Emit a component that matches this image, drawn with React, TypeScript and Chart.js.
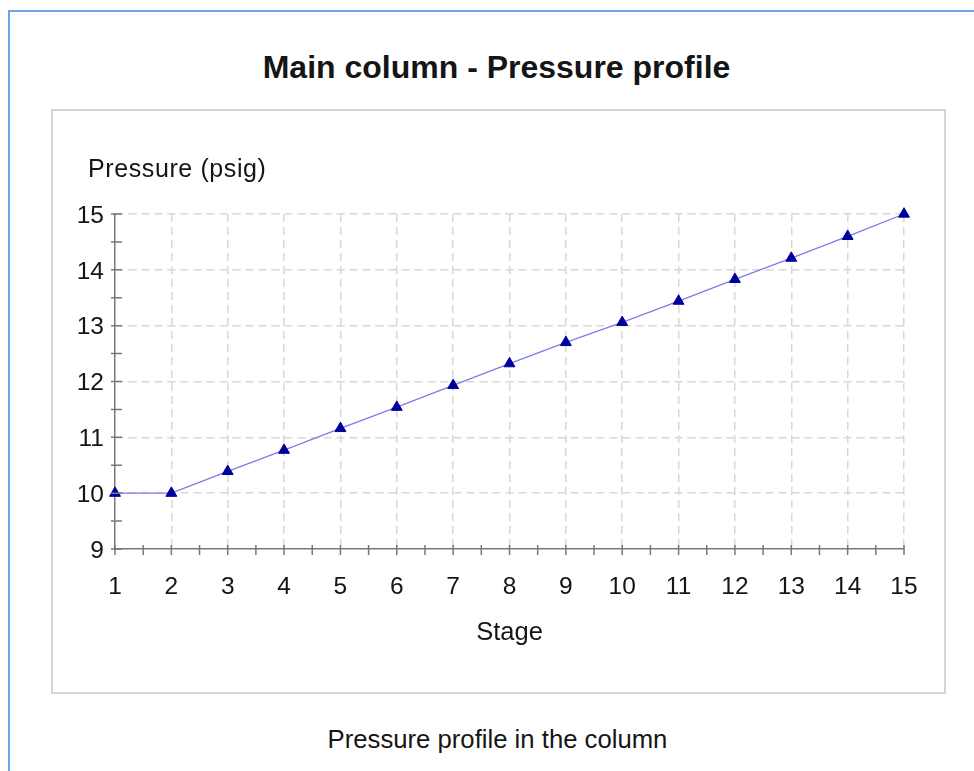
import React, { useEffect, useRef } from "react";
import { Chart, registerables } from "chart.js";

Chart.register(...registerables);

const stages = [1, 2, 3, 4, 5, 6, 7, 8, 9, 10, 11, 12, 13, 14, 15];
const pressure = [10, 10, 10.39, 10.77, 11.16, 11.54, 11.93, 12.32, 12.7, 13.06, 13.44, 13.83, 14.21, 14.6, 15];
const xRange = [1, 15];
const yRange = [9, 15];
const titleText = "Main column - Pressure profile";
const yTitleText = "Pressure (psig)";
const xTitleText = "Stage";
const captionText = "Pressure profile in the column";

const FONT = '"Liberation Sans", Arial, sans-serif';
const AXIS_COLOR = "#787878";
const GRID_COLOR = "#d8d8d8";
const TEXT_COLOR = "#151515";

const isMajor = (v: number) => Math.abs(v - Math.round(v)) < 1e-6;

const tickMarksPlugin = {
  id: "tickMarks",
  afterDatasetsDraw(chart: any) {
    const { ctx, scales } = chart;
    const xs = scales.x;
    const ys = scales.y;
    ctx.save();
    ctx.strokeStyle = AXIS_COLOR;
    ctx.lineWidth = 1.5;
    ctx.beginPath();
    const axisY = ys.getPixelForValue(yRange[0]);
    const axisX = xs.getPixelForValue(xRange[0]);
    xs.ticks.forEach((t: any) => {
      const px = xs.getPixelForValue(t.value);
      ctx.moveTo(px, axisY - 4);
      ctx.lineTo(px, axisY + 6);
    });
    ys.ticks.forEach((t: any) => {
      const py = ys.getPixelForValue(t.value);
      ctx.moveTo(axisX - 4, py);
      ctx.lineTo(axisX + 7, py);
    });
    ctx.stroke();
    // y axis title, horizontal above the axis
    ctx.fillStyle = TEXT_COLOR;
    ctx.font = `25px ${FONT}`;
    ctx.textAlign = "left";
    ctx.textBaseline = "alphabetic";
    try {
      (ctx as any).letterSpacing = "0.6px";
    } catch (e) {}
    ctx.fillText(yTitleText, 35, 66);
    ctx.restore();
  },
};

function ChartCanvas() {
  const ref = useRef<HTMLCanvasElement | null>(null);
  useEffect(() => {
    if (!ref.current) return;
    const chart = new Chart(ref.current, {
      type: "line",
      data: {
        datasets: [
          {
            data: stages.map((s, i) => ({ x: s, y: pressure[i] })),
            borderColor: "#7c7ce6",
            borderWidth: 1.2,
            pointStyle: "triangle",
            pointRadius: 6.3,
            pointHoverRadius: 6.3,
            pointBackgroundColor: "#00009c",
            pointBorderColor: "#00009c",
            pointBorderWidth: 1,
            tension: 0,
            clip: false as any,
          },
        ],
      },
      options: {
        responsive: false,
        animation: false,
        events: [],
        layout: { padding: { left: 0, right: 39, top: 103, bottom: 42 } },
        plugins: {
          legend: { display: false },
          tooltip: { enabled: false },
          title: { display: false },
        },
        scales: {
          x: {
            type: "linear",
            min: xRange[0],
            max: xRange[1],
            afterFit: (s: any) => {
              s.height = 100;
            },
            ticks: {
              stepSize: 0.5,
              autoSkip: false,
              maxRotation: 0,
              padding: 24,
              color: TEXT_COLOR,
              font: { family: FONT, size: 24.5 },
              callback: (v: any) => (isMajor(Number(v)) ? String(Math.round(Number(v))) : ""),
            },
            grid: {
              drawTicks: false,
              lineWidth: 1.5,
              color: (c: any) =>
                c.tick && isMajor(c.tick.value) && c.tick.value !== xRange[0] ? GRID_COLOR : "rgba(0,0,0,0)",
            },
            border: { display: true, color: AXIS_COLOR, width: 1.5, dash: [8, 5] },
            title: {
              display: true,
              text: xTitleText,
              color: TEXT_COLOR,
              font: { family: FONT, size: 25.5 },
              padding: { top: 0, bottom: 1 },
            },
          },
          y: {
            type: "linear",
            min: yRange[0],
            max: yRange[1],
            afterFit: (s: any) => {
              s.width = 62;
            },
            ticks: {
              stepSize: 0.5,
              autoSkip: false,
              padding: 11,
              labelOffset: 2,
              color: TEXT_COLOR,
              font: { family: FONT, size: 24.5 },
              callback: (v: any) => (isMajor(Number(v)) ? String(Math.round(Number(v))) : ""),
            },
            grid: {
              drawTicks: false,
              lineWidth: 1.5,
              color: (c: any) =>
                c.tick && isMajor(c.tick.value) && c.tick.value !== yRange[0] ? GRID_COLOR : "rgba(0,0,0,0)",
            },
            border: { display: true, color: AXIS_COLOR, width: 1.5, dash: [8, 5] },
          },
        },
      },
      plugins: [tickMarksPlugin],
    });
    return () => chart.destroy();
  }, []);
  return (
    <canvas
      ref={ref}
      width={890}
      height={580}
      style={{ position: "absolute", left: 0, top: 0, width: 890, height: 580 }}
    />
  );
}

export default function App() {
  return (
    <div
      style={{
        position: "absolute",
        left: 0,
        top: 0,
        width: 974,
        height: 771,
        overflow: "hidden",
        background: "#fff",
        fontFamily: FONT,
        color: TEXT_COLOR,
      }}
    >
      <div
        style={{
          position: "absolute",
          left: 8,
          top: 10,
          width: 970,
          height: 770,
          borderLeft: "2px solid #6ba6e6",
          borderTop: "2px solid #6ba6e6",
          boxSizing: "border-box",
        }}
      />
      <div
        style={{
          position: "absolute",
          left: 0,
          top: 51,
          width: 993,
          textAlign: "center",
          fontSize: 32,
          lineHeight: "32px",
          fontWeight: "bold",
          whiteSpace: "nowrap",
        }}
      >
        {titleText}
      </div>
      <div
        style={{
          position: "absolute",
          left: 51,
          top: 109,
          width: 895,
          height: 585,
          border: "2px solid #d4d4d4",
          boxSizing: "border-box",
        }}
      >
        <ChartCanvas />
      </div>
      <div
        style={{
          position: "absolute",
          left: 0,
          top: 726,
          width: 995,
          textAlign: "center",
          fontSize: 25.7,
          lineHeight: "26px",
          whiteSpace: "nowrap",
        }}
      >
        {captionText}
      </div>
    </div>
  );
}
